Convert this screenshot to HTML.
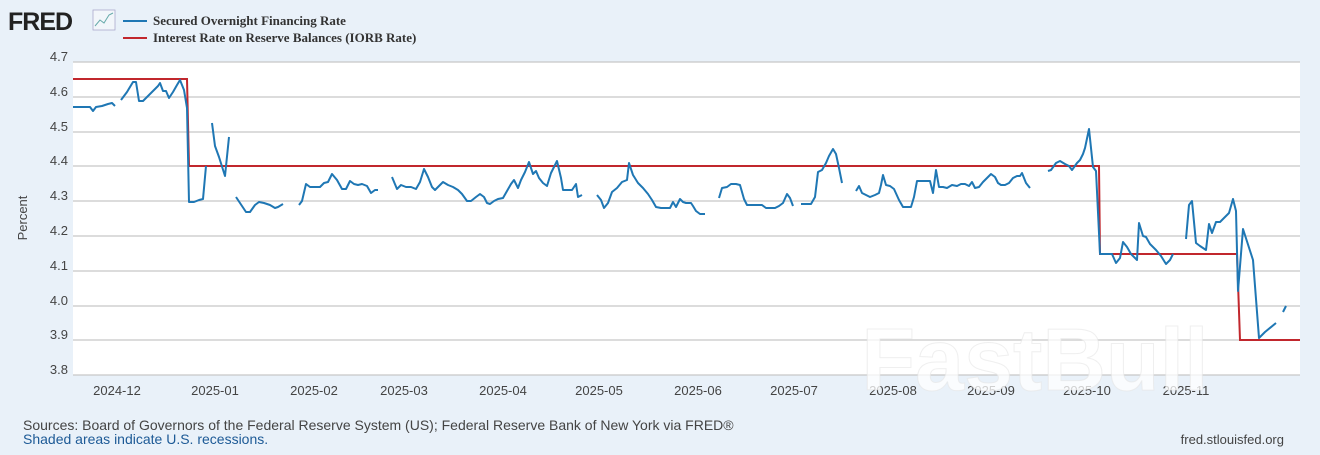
<!DOCTYPE html>
<html><head><meta charset="utf-8"><style>
body{margin:0;width:1320px;height:450px;background:#e9f1f9;overflow:hidden;font-family:"Liberation Sans",sans-serif}
</style></head><body>
<svg width="1320" height="450" xmlns="http://www.w3.org/2000/svg" font-family="Liberation Sans, sans-serif">
<rect width="1320" height="450" fill="#e9f1f9"/>
<text x="8" y="30" font-size="25" font-weight="bold" fill="#222" letter-spacing="-1">FRED</text>
<rect x="93" y="10" width="22" height="20" fill="#f2f6fa" stroke="#aac" stroke-width="0.8"/>
<polyline points="95,26 100,20 104,23 109,15 113,13" fill="none" stroke="#6aa" stroke-width="1"/>
<line x1="123" y1="21" x2="147" y2="21" stroke="#1f77b4" stroke-width="2"/>
<line x1="123" y1="38" x2="147" y2="38" stroke="#c1272d" stroke-width="2"/>
<text x="153" y="25" font-family="Liberation Serif, serif" font-size="13" font-weight="bold" fill="#333">Secured Overnight Financing Rate</text>
<text x="153" y="42" font-family="Liberation Serif, serif" font-size="13" font-weight="bold" fill="#333">Interest Rate on Reserve Balances (IORB Rate)</text>
<rect x="73" y="62" width="1227" height="313" fill="#fff"/>
<g stroke="#c8c8c8" stroke-width="1.2">
<line x1="73" y1="62" x2="1300" y2="62"/><line x1="73" y1="97" x2="1300" y2="97"/><line x1="73" y1="132" x2="1300" y2="132"/><line x1="73" y1="166" x2="1300" y2="166"/><line x1="73" y1="201" x2="1300" y2="201"/><line x1="73" y1="236" x2="1300" y2="236"/><line x1="73" y1="271" x2="1300" y2="271"/><line x1="73" y1="306" x2="1300" y2="306"/><line x1="73" y1="340" x2="1300" y2="340"/><line x1="73" y1="375" x2="1300" y2="375"/>
</g>
<g font-size="13" fill="#444" text-anchor="end">
<text x="68" y="61">4.7</text><text x="68" y="96">4.6</text><text x="68" y="131">4.5</text><text x="68" y="165">4.4</text><text x="68" y="200">4.3</text><text x="68" y="235">4.2</text><text x="68" y="270">4.1</text><text x="68" y="305">4.0</text><text x="68" y="339">3.9</text><text x="68" y="374">3.8</text>
</g>
<text transform="translate(27,218) rotate(-90)" font-size="13" fill="#444" text-anchor="middle">Percent</text>
<g font-size="13" fill="#444" text-anchor="middle">
<text x="117" y="395">2024-12</text><text x="215" y="395">2025-01</text><text x="314" y="395">2025-02</text><text x="404" y="395">2025-03</text><text x="503" y="395">2025-04</text><text x="599" y="395">2025-05</text><text x="698" y="395">2025-06</text><text x="794" y="395">2025-07</text><text x="893" y="395">2025-08</text><text x="991" y="395">2025-09</text><text x="1087" y="395">2025-10</text><text x="1186" y="395">2025-11</text>
</g>
<text x="1035" y="390" font-size="88" font-weight="bold" fill="#ffffff" fill-opacity="0.75" stroke="#e4e4e4" stroke-opacity="0.6" stroke-width="1" text-anchor="middle">FastBull</text>
<polyline points="73,79 187,79 189,166 1099,166 1100,254 1237,254 1240,340 1300,340" fill="none" stroke="#c1272d" stroke-width="2"/>
<g fill="none" stroke="#1f77b4" stroke-width="2" stroke-linejoin="round">
<polyline points="73,107 80,107 90,107 93,111 96,107 102,106 108,104 112,103 115,106"/>
<polyline points="121,100 127,92 133,82 136,82 139,101 143,101 147,97 152,92 158,86 160,83 163,91 166,91 169,98 173,92 177,85 180,80 184,90 187,108 189,202 194,202 199,200 203,199 206,166"/>
<polyline points="212,123 215,146 219,157 225,176 229,137"/>
<polyline points="236,197 240,203 246,212 250,212 255,205 259,202 264,203 270,205 275,208 278,207 283,204"/>
<polyline points="299,205 302,201 306,184 310,187 315,187 320,187 324,183 328,182 332,174 337,180 342,189 346,189 350,181 354,184 358,185 362,184 367,186 371,193 375,190 378,190"/>
<polyline points="392,177 397,189 401,185 406,187 411,187 416,189 420,182 424,169 428,177 432,187 435,190 439,186 443,182 448,185 453,187 458,190 462,194 467,201 471,201 476,197 480,194 484,197 487,203 490,204 494,201 498,199 503,198 507,191 511,184 514,180 518,188 521,180 525,172 529,162 533,174 536,171 539,178 543,183 547,186 551,173 554,167 557,161 561,178 563,190 568,190 572,190 576,184 578,197 582,195"/>
<polyline points="597,195 601,200 604,208 608,203 612,192 617,188 622,182 627,180 629,163 633,175 638,183 643,188 648,194 652,200 656,207 661,208 665,208 670,208 673,202 676,207 680,199 683,202 686,203 691,203 693,206 696,211 700,214 705,214"/>
<polyline points="719,198 722,188 727,187 731,184 736,184 740,185 744,199 747,205 752,205 757,205 762,205 766,208 770,208 775,208 779,206 783,203 787,194 790,198 793,206"/>
<polyline points="801,204 806,204 811,204 815,197 818,172 822,170 826,163 829,156 833,149 836,154 839,168 842,183"/>
<polyline points="856,191 859,186 862,193 866,195 870,197 875,195 879,193 881,185 883,175 886,185 890,186 894,189 899,200 903,207 908,207 911,207 914,197 917,181 921,181 926,181 930,181 933,193 936,170 939,187 943,187 947,188 952,185 957,186 961,184 965,184 969,186 972,182 975,188 979,187 983,182 987,178 991,174 995,177 998,183 1001,185 1005,185 1009,183 1013,178 1017,176 1020,176 1022,173 1026,183 1030,188"/>
<polyline points="1048,171 1051,170 1056,163 1060,161 1065,164 1069,166 1072,170 1077,163 1080,160 1083,154 1085,148 1089,129 1093,167 1096,171 1100,254 1112,254 1116,263 1120,258 1123,242 1127,247 1131,254 1137,260 1139,223 1143,236 1146,237 1150,244 1156,250 1161,256 1166,264 1170,260 1173,254"/>
<polyline points="1186,239 1189,205 1192,201 1196,243 1200,246 1206,250 1209,224 1212,233 1216,222 1220,222 1226,216 1229,213 1233,199 1236,211 1238,291 1243,229 1253,260 1259,338 1265,332 1276,323"/>
<polyline points="1283,312 1286,306"/>
</g>
<text x="23" y="430" font-size="14" fill="#444">Sources: Board of Governors of the Federal Reserve System (US); Federal Reserve Bank of New York via FRED®</text>
<text x="23" y="444" font-size="14" fill="#1d5a96">Shaded areas indicate U.S. recessions.</text>
<text x="1284" y="444" font-size="13" fill="#444" text-anchor="end">fred.stlouisfed.org</text>
</svg>
</body></html>
